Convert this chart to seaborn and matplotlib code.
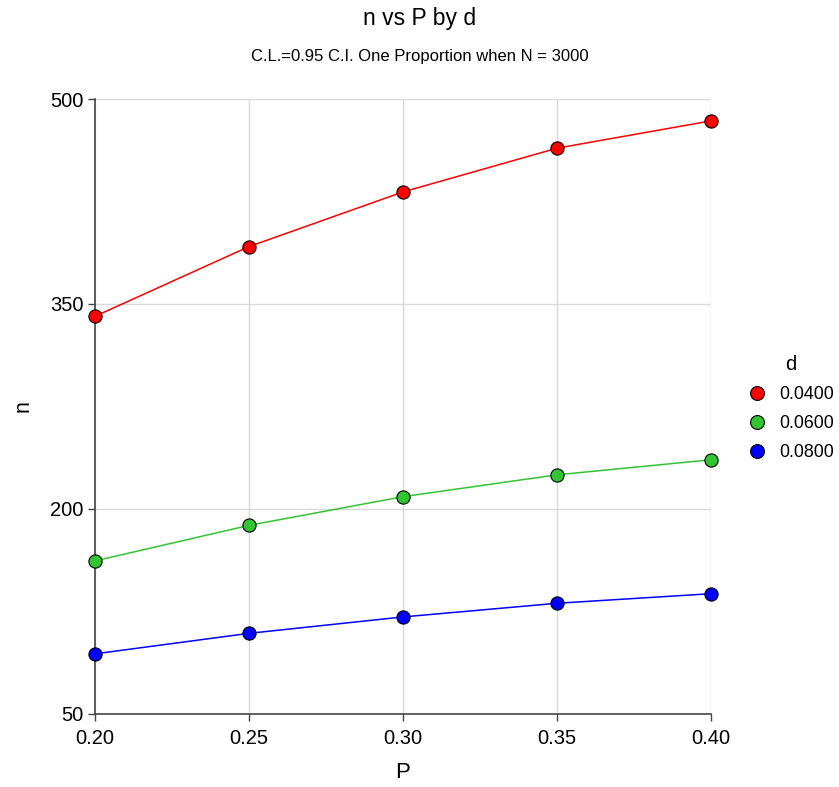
import matplotlib
matplotlib.use("Agg")
import matplotlib.pyplot as plt
import seaborn as sns
import pandas as pd

# values
p_values = [0.20, 0.25, 0.30, 0.35, 0.40]
n_d040 = [341, 392, 432, 464, 484]
n_d060 = [162, 188, 209, 225, 236]
n_d080 = [94, 109, 121, 131, 138]
d_labels = ["0.0400", "0.0600", "0.0800"]
colors = ["#ff0000", "#33c433", "#0000ff"]

rows = []
for lab, series in zip(d_labels, [n_d040, n_d060, n_d080]):
    for p, n in zip(p_values, series):
        rows.append({"P": p, "n": n, "d": lab})
df = pd.DataFrame(rows)

sns.set_style("white")
plt.rcParams["font.family"] = ["Liberation Sans", "DejaVu Sans"]
plt.rcParams["text.color"] = "black"
plt.rcParams["axes.labelcolor"] = "black"
plt.rcParams["xtick.labelcolor"] = "black"
plt.rcParams["ytick.labelcolor"] = "black"

fig = plt.figure(figsize=(8.39, 7.87), dpi=100)
ax = fig.add_axes([0.1132, 0.0928, 0.7342, 0.7814])

sns.lineplot(data=df, x="P", y="n", hue="d", palette=colors, marker="o",
             markersize=9.5, markeredgecolor="black", markeredgewidth=0.8,
             linewidth=1.1, ax=ax, clip_on=False, zorder=3)

ax.set_xlim(0.20, 0.40)
ax.set_ylim(50, 500)
ax.set_xticks(p_values)
ax.set_xticklabels([f"{p:.2f}" for p in p_values])
ax.set_yticks([50, 200, 350, 500])
ax.grid(True, color="#d9d9d9", linewidth=1)
ax.set_axisbelow(True)
for s in ["top", "right"]:
    ax.spines[s].set_visible(False)
for s in ["left", "bottom"]:
    ax.spines[s].set_color("#444444")
    ax.spines[s].set_linewidth(1.2)
ax.tick_params(axis="both", direction="out", length=5, width=1, color="#444444",
               labelsize=14.5, bottom=True, left=True)
ax.tick_params(axis="x", pad=6)
ax.tick_params(axis="y", pad=3)

ax.set_xlabel("P", fontsize=16, labelpad=10)
ax.set_ylabel("n", fontsize=15.5, labelpad=12)

fig.text(0.5, 0.977, "n vs P by d", ha="center", va="center", fontsize=16.5)
fig.text(0.5, 0.928, "C.L.=0.95 C.I. One Proportion when N = 3000",
         ha="center", va="center", fontsize=12)

leg = ax.legend(title="d", loc="center left", bbox_to_anchor=(1.043, 0.497),
                frameon=False, fontsize=12.8, title_fontsize=14.5,
                handlelength=1.0, handletextpad=0.75, labelspacing=0.68,
                borderaxespad=0.2, markerscale=1.05)
for h in leg.legend_handles:
    h.set_linestyle("none")

fig.savefig("out.png", dpi=100)
